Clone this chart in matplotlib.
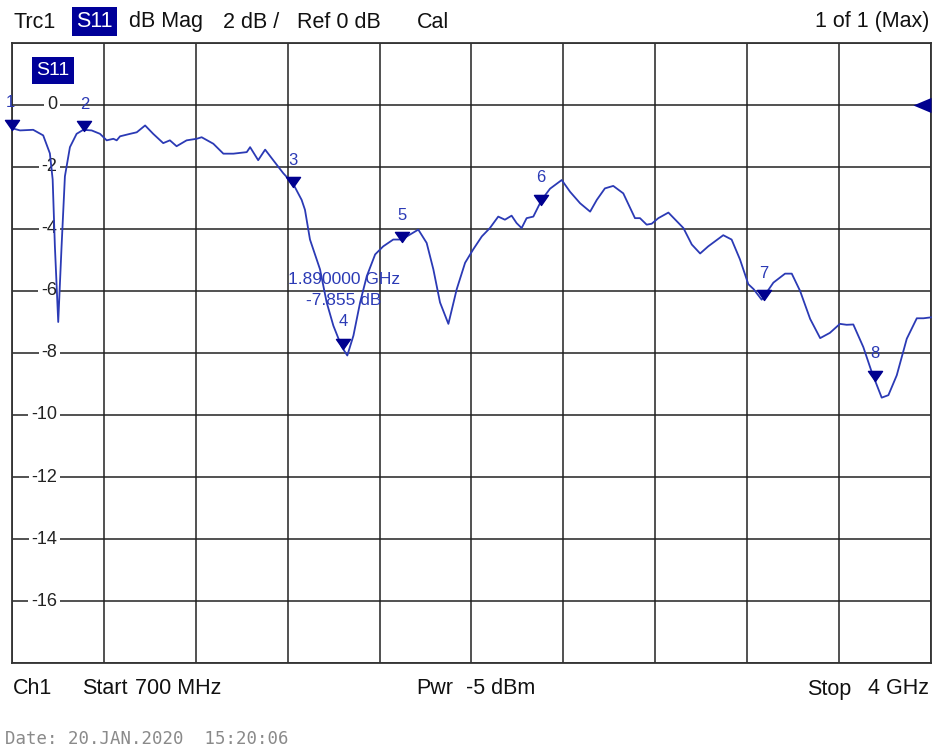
import numpy as np
import matplotlib.pyplot as plt
from matplotlib.path import Path
from matplotlib.patches import Rectangle

plt.rcParams['font.family'] = ['Liberation Sans', 'DejaVu Sans']

# trace: frequency (GHz) and S11 (dB)
freq_ghz = [0.700, 0.729, 0.776, 0.812, 0.836, 0.846, 0.854, 0.866, 0.878, 0.890,
            0.908, 0.932, 0.956, 0.986, 1.016, 1.040, 1.064, 1.076, 1.088, 1.124,
            1.148, 1.178, 1.207, 1.243, 1.267, 1.291, 1.327, 1.363, 1.381, 1.423,
            1.459, 1.495, 1.543, 1.555, 1.584, 1.609, 1.638, 1.674, 1.710, 1.740,
            1.752, 1.770, 1.806, 1.830, 1.854, 1.884, 1.904, 1.926, 1.950, 1.974,
            2.004, 2.033, 2.069, 2.099, 2.129, 2.159, 2.189, 2.213, 2.237, 2.267,
            2.297, 2.327, 2.356, 2.387, 2.416, 2.446, 2.470, 2.494, 2.512, 2.530,
            2.548, 2.572, 2.602, 2.632, 2.674, 2.704, 2.740, 2.776, 2.800, 2.829,
            2.859, 2.895, 2.937, 2.955, 2.979, 2.997, 3.021, 3.057, 3.111, 3.141,
            3.171, 3.200, 3.254, 3.284, 3.314, 3.344, 3.363, 3.392, 3.434, 3.476,
            3.500, 3.530, 3.566, 3.602, 3.637, 3.673, 3.697, 3.721, 3.757, 3.787,
            3.823, 3.847, 3.877, 3.913, 3.949, 3.973, 4.000]
s11_db = [-0.75, -0.82, -0.80, -0.98, -1.56, -2.40, -4.56, -7.00, -4.56, -2.30,
          -1.36, -0.93, -0.80, -0.82, -0.93, -1.14, -1.09, -1.14, -1.01, -0.93,
          -0.88, -0.66, -0.93, -1.23, -1.14, -1.33, -1.14, -1.09, -1.04, -1.25,
          -1.57, -1.57, -1.52, -1.36, -1.78, -1.44, -1.78, -2.20, -2.55, -3.06,
          -3.38, -4.34, -5.30, -6.37, -7.12, -7.80, -8.08, -7.44, -6.37, -5.52,
          -4.82, -4.56, -4.34, -4.34, -4.18, -4.02, -4.45, -5.30, -6.37, -7.06,
          -5.94, -5.09, -4.66, -4.24, -3.97, -3.60, -3.70, -3.57, -3.81, -3.97,
          -3.65, -3.60, -3.06, -2.70, -2.42, -2.80, -3.17, -3.44, -3.06, -2.69,
          -2.61, -2.85, -3.65, -3.65, -3.86, -3.83, -3.65, -3.47, -3.97, -4.50,
          -4.79, -4.56, -4.20, -4.34, -4.98, -5.78, -5.94, -6.28, -5.73, -5.44,
          -5.44, -6.00, -6.90, -7.52, -7.35, -7.06, -7.09, -7.08, -7.81, -8.61,
          -9.44, -9.36, -8.72, -7.54, -6.88, -6.88, -6.85]

# markers
marker_ids = ['1', '2', '3', '4', '5', '6', '7', '8']
marker_freq = [0.70, 0.96, 1.71, 1.89, 2.10, 2.60, 3.40, 3.80]
marker_db = [-0.80, -0.85, -2.65, -7.855, -4.43, -3.22, -6.30, -8.90]

y_ticks = [0, -2, -4, -6, -8, -10, -12, -14, -16]

W, H = 933, 749
fig = plt.figure(figsize=(W / 100, H / 100), dpi=100)
ax = fig.add_axes([12 / W, 1 - 663 / H, 919 / W, 620 / H])


def fx(x):
    return x / W


def fy(y):
    return 1 - y / H


def tag(x0, y0, x1, y1, size):
    # white text on the navy highlight box, pixel coords
    fig.patches.append(Rectangle((fx(x0), fy(y1)), fx(x1 - x0), (y1 - y0) / H,
                                 transform=fig.transFigure, fc='#000099', ec='none'))
    fig.text(fx((x0 + x1) / 2), fy((y0 + y1) / 2), 'S11', ha='center', va='center',
             fontsize=size, color='white')


trace_col = '#2b3ab5'
mark_col = '#00008f'
txt_col = '#111111'

ax.set_xlim(0.7, 4.0)
ax.set_ylim(-18, 2)
ax.set_xticks(np.linspace(0.7, 4.0, 11))
ax.set_yticks(np.arange(-18, 3, 2))
ax.grid(True, color='#222222', lw=1.1)
ax.tick_params(length=0, labelbottom=False, labelleft=False)
for s in ax.spines.values():
    s.set_color('#333333')
    s.set_linewidth(1.3)

ax.plot(freq_ghz, s11_db, color=trace_col, lw=1.3, zorder=4, clip_on=False)

# downward triangle with its tip on the point
tri = Path([(-0.7, 1.0), (0.7, 1.0), (0.0, 0.0), (-0.7, 1.0)],
           [Path.MOVETO, Path.LINETO, Path.LINETO, Path.CLOSEPOLY])
ax.plot(marker_freq, marker_db, ls='none', marker=tri, ms=14.5, color=mark_col,
        zorder=5, clip_on=False)
for lab, f, d in zip(marker_ids, marker_freq, marker_db):
    ax.annotate(lab, (f, d), xytext=(0 if lab != '1' else -2, 27),
                textcoords='offset pixels', ha='center', va='center',
                fontsize=12, color=trace_col, zorder=6, annotation_clip=False)

ax.text(1.892, -5.63, '1.890000 GHz', ha='center', va='center', fontsize=12.5,
        color=trace_col, zorder=6)
ax.text(1.892, -6.3, '-7.855 dB', ha='center', va='center', fontsize=12.5,
        color=trace_col, zorder=6)

# reference level pointer on the right edge
ref_tri = Path([(0.0, -0.42), (0.0, 0.42), (-1.0, 0.0), (0.0, -0.42)],
               [Path.MOVETO, Path.LINETO, Path.LINETO, Path.CLOSEPOLY])
ax.plot([4.0], [0], ls='none', marker=ref_tri, ms=26, color=mark_col,
        zorder=6, clip_on=False, markeredgewidth=0)

# y labels inside the grid
for v in y_ticks:
    ax.text(0.862, v, str(v), ha='right', va='center', fontsize=13,
            color='#222222', zorder=3,
            bbox=dict(boxstyle='square,pad=0.15', fc='white', ec='none'))

# S11 tag inside plot
tag(32, 57, 74, 84, 14)

# header
hdr = 15.5
fig.text(fx(13), fy(22), 'Trc1', ha='left', va='center', fontsize=hdr, color=txt_col)
tag(72, 7, 117, 36, hdr)
fig.text(fx(129), fy(22), 'dB Mag', ha='left', va='center', fontsize=hdr, color=txt_col)
fig.text(fx(223), fy(22), '2 dB /', ha='left', va='center', fontsize=hdr, color=txt_col)
fig.text(fx(297), fy(22), 'Ref 0 dB', ha='left', va='center', fontsize=hdr, color=txt_col)
fig.text(fx(417), fy(22), 'Cal', ha='left', va='center', fontsize=hdr, color=txt_col)
fig.text(fx(929), fy(22), '1 of 1 (Max)', ha='right', va='center', fontsize=hdr,
         color=txt_col)

# footer
fy0 = fy(689)
fig.text(fx(13), fy0, 'Ch1', ha='left', va='center', fontsize=hdr, color=txt_col)
fig.text(fx(82), fy0, 'Start', ha='left', va='center', fontsize=hdr, color=txt_col)
fig.text(fx(135), fy0, '700 MHz', ha='left', va='center', fontsize=hdr, color=txt_col)
fig.text(fx(416), fy0, 'Pwr', ha='left', va='center', fontsize=hdr, color=txt_col)
fig.text(fx(466), fy0, '-5 dBm', ha='left', va='center', fontsize=hdr, color=txt_col)
fig.text(fx(807), fy0, 'Stop', ha='left', va='center', fontsize=hdr, color=txt_col)
fig.text(fx(929), fy0, '4 GHz', ha='right', va='center', fontsize=hdr, color=txt_col)

# date stamp
fig.text(fx(5), fy(739), 'Date: 20.JAN.2020  15:20:06', ha='left', va='center',
         fontsize=12.5, color='#8a8a8a', family='DejaVu Sans Mono')

fig.savefig('out.png', dpi=100, facecolor='white')
